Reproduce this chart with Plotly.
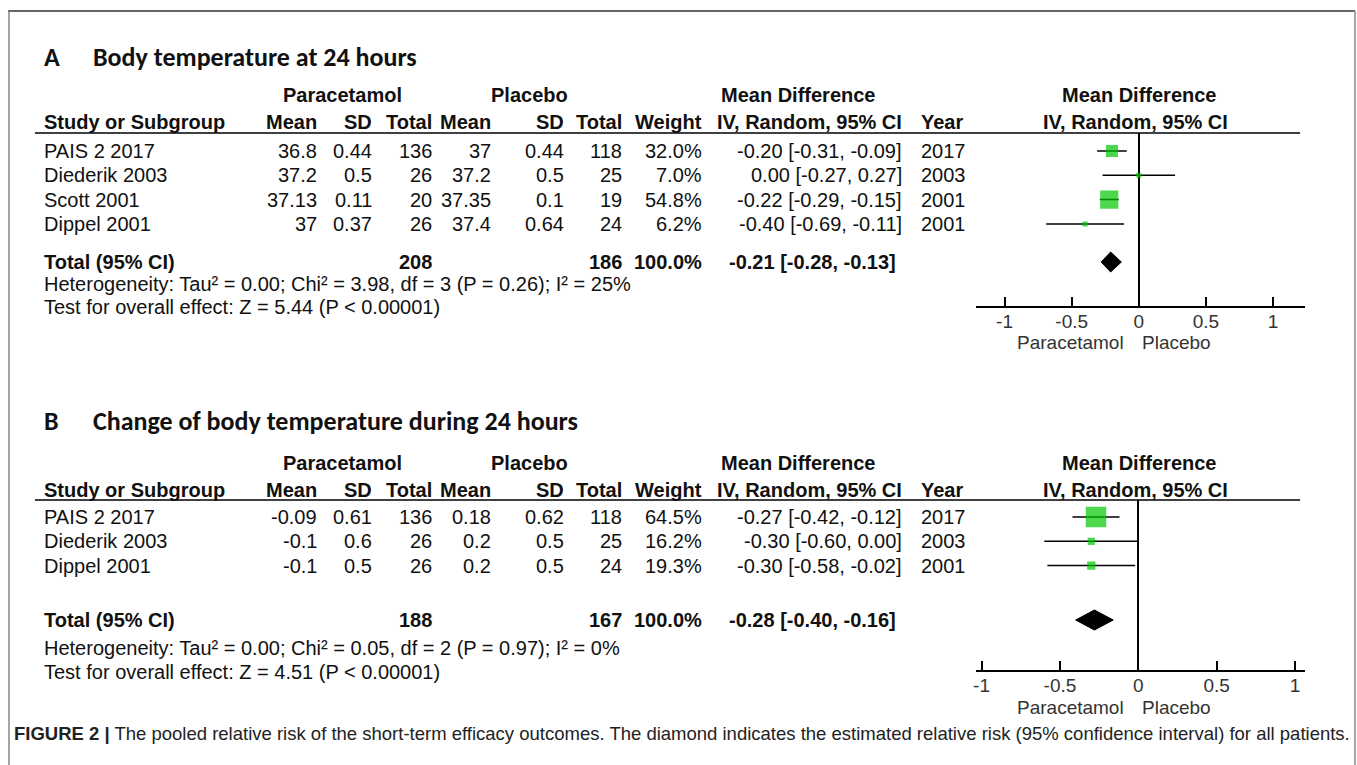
import plotly.graph_objects as go

W, H = 1357, 765

# ---------------- Panel A data: Body temperature at 24 hours ----------------
studies_a = ["PAIS 2 2017", "Diederik 2003", "Scott 2001", "Dippel 2001"]
para_mean_a = [36.8, 37.2, 37.13, 37]
para_sd_a = [0.44, 0.5, 0.11, 0.37]
para_n_a = [136, 26, 20, 26]
plac_mean_a = [37, 37.2, 37.35, 37.4]
plac_sd_a = [0.44, 0.5, 0.1, 0.64]
plac_n_a = [118, 25, 19, 24]
weight_a = [32.0, 7.0, 54.8, 6.2]
md_a = [-0.20, 0.00, -0.22, -0.40]
lo_a = [-0.31, -0.27, -0.29, -0.69]
hi_a = [-0.09, 0.27, -0.15, -0.11]
year_a = [2017, 2003, 2001, 2001]
total_para_a = 208
total_plac_a = 186
pooled_a = [-0.21, -0.28, -0.13]
het_a = "Heterogeneity: Tau² = 0.00; Chi² = 3.98, df = 3 (P = 0.26); I² = 25%"
test_a = "Test for overall effect: Z = 5.44 (P < 0.00001)"

# ---------------- Panel B data: Change of body temperature ----------------
studies_b = ["PAIS 2 2017", "Diederik 2003", "Dippel 2001"]
para_mean_b = [-0.09, -0.1, -0.1]
para_sd_b = [0.61, 0.6, 0.5]
para_n_b = [136, 26, 26]
plac_mean_b = [0.18, 0.2, 0.2]
plac_sd_b = [0.62, 0.5, 0.5]
plac_n_b = [118, 25, 24]
weight_b = [64.5, 16.2, 19.3]
md_b = [-0.27, -0.30, -0.30]
lo_b = [-0.42, -0.60, -0.58]
hi_b = [-0.12, 0.00, -0.02]
year_b = [2017, 2003, 2001]
total_para_b = 188
total_plac_b = 167
pooled_b = [-0.28, -0.40, -0.16]
het_b = "Heterogeneity: Tau² = 0.00; Chi² = 0.05, df = 2 (P = 0.97); I² = 0%"
test_b = "Test for overall effect: Z = 4.51 (P < 0.00001)"

tick_vals = [-1, -0.5, 0, 0.5, 1]
tick_text = ["-1", "-0.5", "0", "0.5", "1"]
axis_labels = ["Paracetamol", "Placebo"]

SANS = "Liberation Sans, Arial, Helvetica, sans-serif"
TITLE = "Carlito, Calibri, Lato, sans-serif"
GREEN = "#00C800"
TXT = "#111111"
FS = 20


def px(x):
    return x / W


def py(y):
    return 1 - y / H


fig = go.Figure()
annotations = []
shapes = []


def txt(x, y, s, anchor="left", bold=False, size=FS, family=SANS, color=TXT):
    annotations.append(dict(
        x=px(x), y=py(y), xref="paper", yref="paper", text=("<b>%s</b>" % s) if bold else s,
        showarrow=False, xanchor=anchor, yanchor="middle",
        font=dict(family=family, size=size, color=color)))


def fmt(v):
    return f"{v:g}"


def panel(letter, title, geo, studies, pm, psd, pn, cm, csd, cn, wt, md, lo, hi, yr,
          tp, tc, pooled, het, test, xa, ya):
    # titles
    txt(40, geo["title"], letter, bold=True, size=26, family=TITLE)
    txt(89, geo["title"], title, bold=True, size=26, family=TITLE)
    # header row 1
    txt(341, geo["h1"], "Paracetamol", anchor="center", bold=True)
    txt(528, geo["h1"], "Placebo", anchor="center", bold=True)
    txt(798, geo["h1"], "Mean Difference", anchor="center", bold=True)
    txt(1139, geo["h1"], "Mean Difference", anchor="center", bold=True)
    # header row 2
    h2 = geo["h2"]
    txt(40, h2, "Study or Subgroup", bold=True)
    for xr, s in [(317, "Mean"), (373, "SD"), (433, "Total"), (492, "Mean"), (565, "SD"),
                  (623, "Total"), (703, "Weight"), (903, "IV, Random, 95% CI")]:
        txt(xr, h2, s, anchor="right", bold=True)
    txt(918, h2, "Year", bold=True)
    txt(1135, h2, "IV, Random, 95% CI", anchor="center", bold=True)
    shapes.append(dict(type="line", xref="paper", yref="paper", x0=px(33), x1=px(1300),
                       y0=py(geo["ul"]), y1=py(geo["ul"]), line=dict(color="black", width=1.5)))
    # study rows
    for i, s in enumerate(studies):
        y = geo["row0"] + geo["dy"] * i
        txt(40, y, s)
        vals = [fmt(pm[i]), fmt(psd[i]), str(pn[i]), fmt(cm[i]), fmt(csd[i]), str(cn[i]),
                f"{wt[i]:.1f}%", f"{md[i]:.2f} [{lo[i]:.2f}, {hi[i]:.2f}]"]
        for xr, v in zip([317, 373, 433, 492, 565, 623, 703, 903], vals):
            txt(xr, y, v, anchor="right")
        txt(918, y, str(yr[i]))
    # total row
    ty = geo["total"]
    txt(40, ty, "Total (95% CI)", bold=True)
    txt(433, ty, str(tp), anchor="right", bold=True)
    txt(623, ty, str(tc), anchor="right", bold=True)
    txt(703, ty, "100.0%", anchor="right", bold=True)
    txt(897, ty, f"{pooled[0]:.2f} [{pooled[1]:.2f}, {pooled[2]:.2f}]", anchor="right", bold=True)
    txt(40, geo["het"], het)
    txt(40, geo["test"], test)
    # axis labels
    txt(1126, geo["lab"], axis_labels[0], anchor="right", size=19, color="#333")
    txt(1140, geo["lab"], axis_labels[1], anchor="left", size=19, color="#333")

    # forest plot traces
    n = len(studies)
    rows = list(range(n))
    sizes = [max(5.0, 0.9 * w ** 0.75) for w in wt]
    fig.add_trace(go.Scatter(
        x=md, y=rows, mode="markers", xaxis=xa, yaxis=ya,
        marker=dict(symbol="square", size=sizes, color=GREEN, line=dict(width=0)),
        error_x=dict(type="data", symmetric=False,
                     array=[h - m for h, m in zip(hi, md)],
                     arrayminus=[m - l for m, l in zip(md, lo)],
                     color="black", thickness=1.5, width=0),
        showlegend=False, hoverinfo="skip"))
    trow = (geo["total"] - geo["row0"]) / geo["dy"]
    hh = 10.0 / geo["dy"]
    est, l, h = pooled
    fig.add_trace(go.Scatter(
        x=[l, est, h, est, l], y=[trow, trow - hh, trow, trow + hh, trow],
        mode="lines", fill="toself", fillcolor="black", line=dict(color="black", width=1),
        xaxis=xa, yaxis=ya, showlegend=False, hoverinfo="skip"))

    x0, x1 = 975, 1305
    m1, p1 = geo["xm1"], geo["xp1"]
    scale = (p1 - m1) / 2.0
    zero = (p1 + m1) / 2.0
    rng = [(x0 - zero) / scale, (x1 - zero) / scale]
    yr0 = (geo["axis"] - geo["row0"]) / geo["dy"]
    yr1 = (geo["ul"] - geo["row0"]) / geo["dy"]
    axis_common = dict(
        range=rng, domain=[px(x0), px(x1)], showgrid=False,
        zeroline=True, zerolinecolor="black", zerolinewidth=1.5,
        showline=True, linecolor="black", linewidth=1.5,
        ticks="inside", ticklen=9, tickwidth=1.5, tickcolor="black",
        tickvals=tick_vals, ticktext=tick_text, ticklabelstandoff=-3,
        tickfont=dict(family=SANS, size=19, color="#333"),
        fixedrange=True)
    yax = dict(range=[yr0, yr1], domain=[py(geo["axis"]), py(geo["ul"])],
               visible=False, showgrid=False, zeroline=False, fixedrange=True)
    return axis_common, yax


geoA = dict(title=57, h1=95, h2=122, ul=133, row0=151, dy=24.3, total=262, het=284, test=307,
            axis=306, lab=343, xm1=1004, xp1=1273)
geoB = dict(title=421, h1=463, h2=490, ul=500, row0=517, dy=24.3, total=620, het=648, test=672,
            axis=670, lab=707, xm1=981, xp1=1295)

xA, yA = panel("A", "Body temperature at 24 hours", geoA, studies_a, para_mean_a, para_sd_a,
               para_n_a, plac_mean_a, plac_sd_a, plac_n_a, weight_a, md_a, lo_a, hi_a, year_a,
               total_para_a, total_plac_a, pooled_a, het_a, test_a, "x", "y")
xB, yB = panel("B", "Change of body temperature during 24 hours", geoB, studies_b, para_mean_b,
               para_sd_b, para_n_b, plac_mean_b, plac_sd_b, plac_n_b, weight_b, md_b, lo_b, hi_b,
               year_b, total_para_b, total_plac_b, pooled_b, het_b, test_b, "x2", "y2")
xB["anchor"] = "y2"
yB["anchor"] = "x2"
xA["anchor"] = "y"
yA["anchor"] = "x"

# caption
annotations.append(dict(
    x=px(10), y=py(733), xref="paper", yref="paper", showarrow=False, xanchor="left",
    yanchor="middle",
    text="<b>FIGURE 2 |</b> The pooled relative risk of the short-term efficacy outcomes. "
         "The diamond indicates the estimated relative risk (95% confidence interval) for all patients.",
    font=dict(family=SANS, size=18.5, color="#222")))

# frame
shapes.append(dict(type="line", xref="paper", yref="paper", x0=px(6), x1=px(1355),
                   y0=py(11), y1=py(11), line=dict(color="#333", width=1.5)))
shapes.append(dict(type="line", xref="paper", yref="paper", x0=px(7), x1=px(7),
                   y0=py(11), y1=0, line=dict(color="#888", width=1.5)))
shapes.append(dict(type="line", xref="paper", yref="paper", x0=px(1355), x1=px(1355),
                   y0=py(11), y1=0, line=dict(color="#888", width=1.5)))

fig.update_layout(
    width=W, height=H, margin=dict(l=0, r=0, t=0, b=0),
    paper_bgcolor="white", plot_bgcolor="rgba(0,0,0,0)",
    xaxis=xA, yaxis=yA, xaxis2=xB, yaxis2=yB,
    annotations=annotations, shapes=shapes, showlegend=False)

fig.write_html("out.html", config={"displayModeBar": False},
               post_script="document.body.style.margin='0';document.body.style.overflow='hidden';")
